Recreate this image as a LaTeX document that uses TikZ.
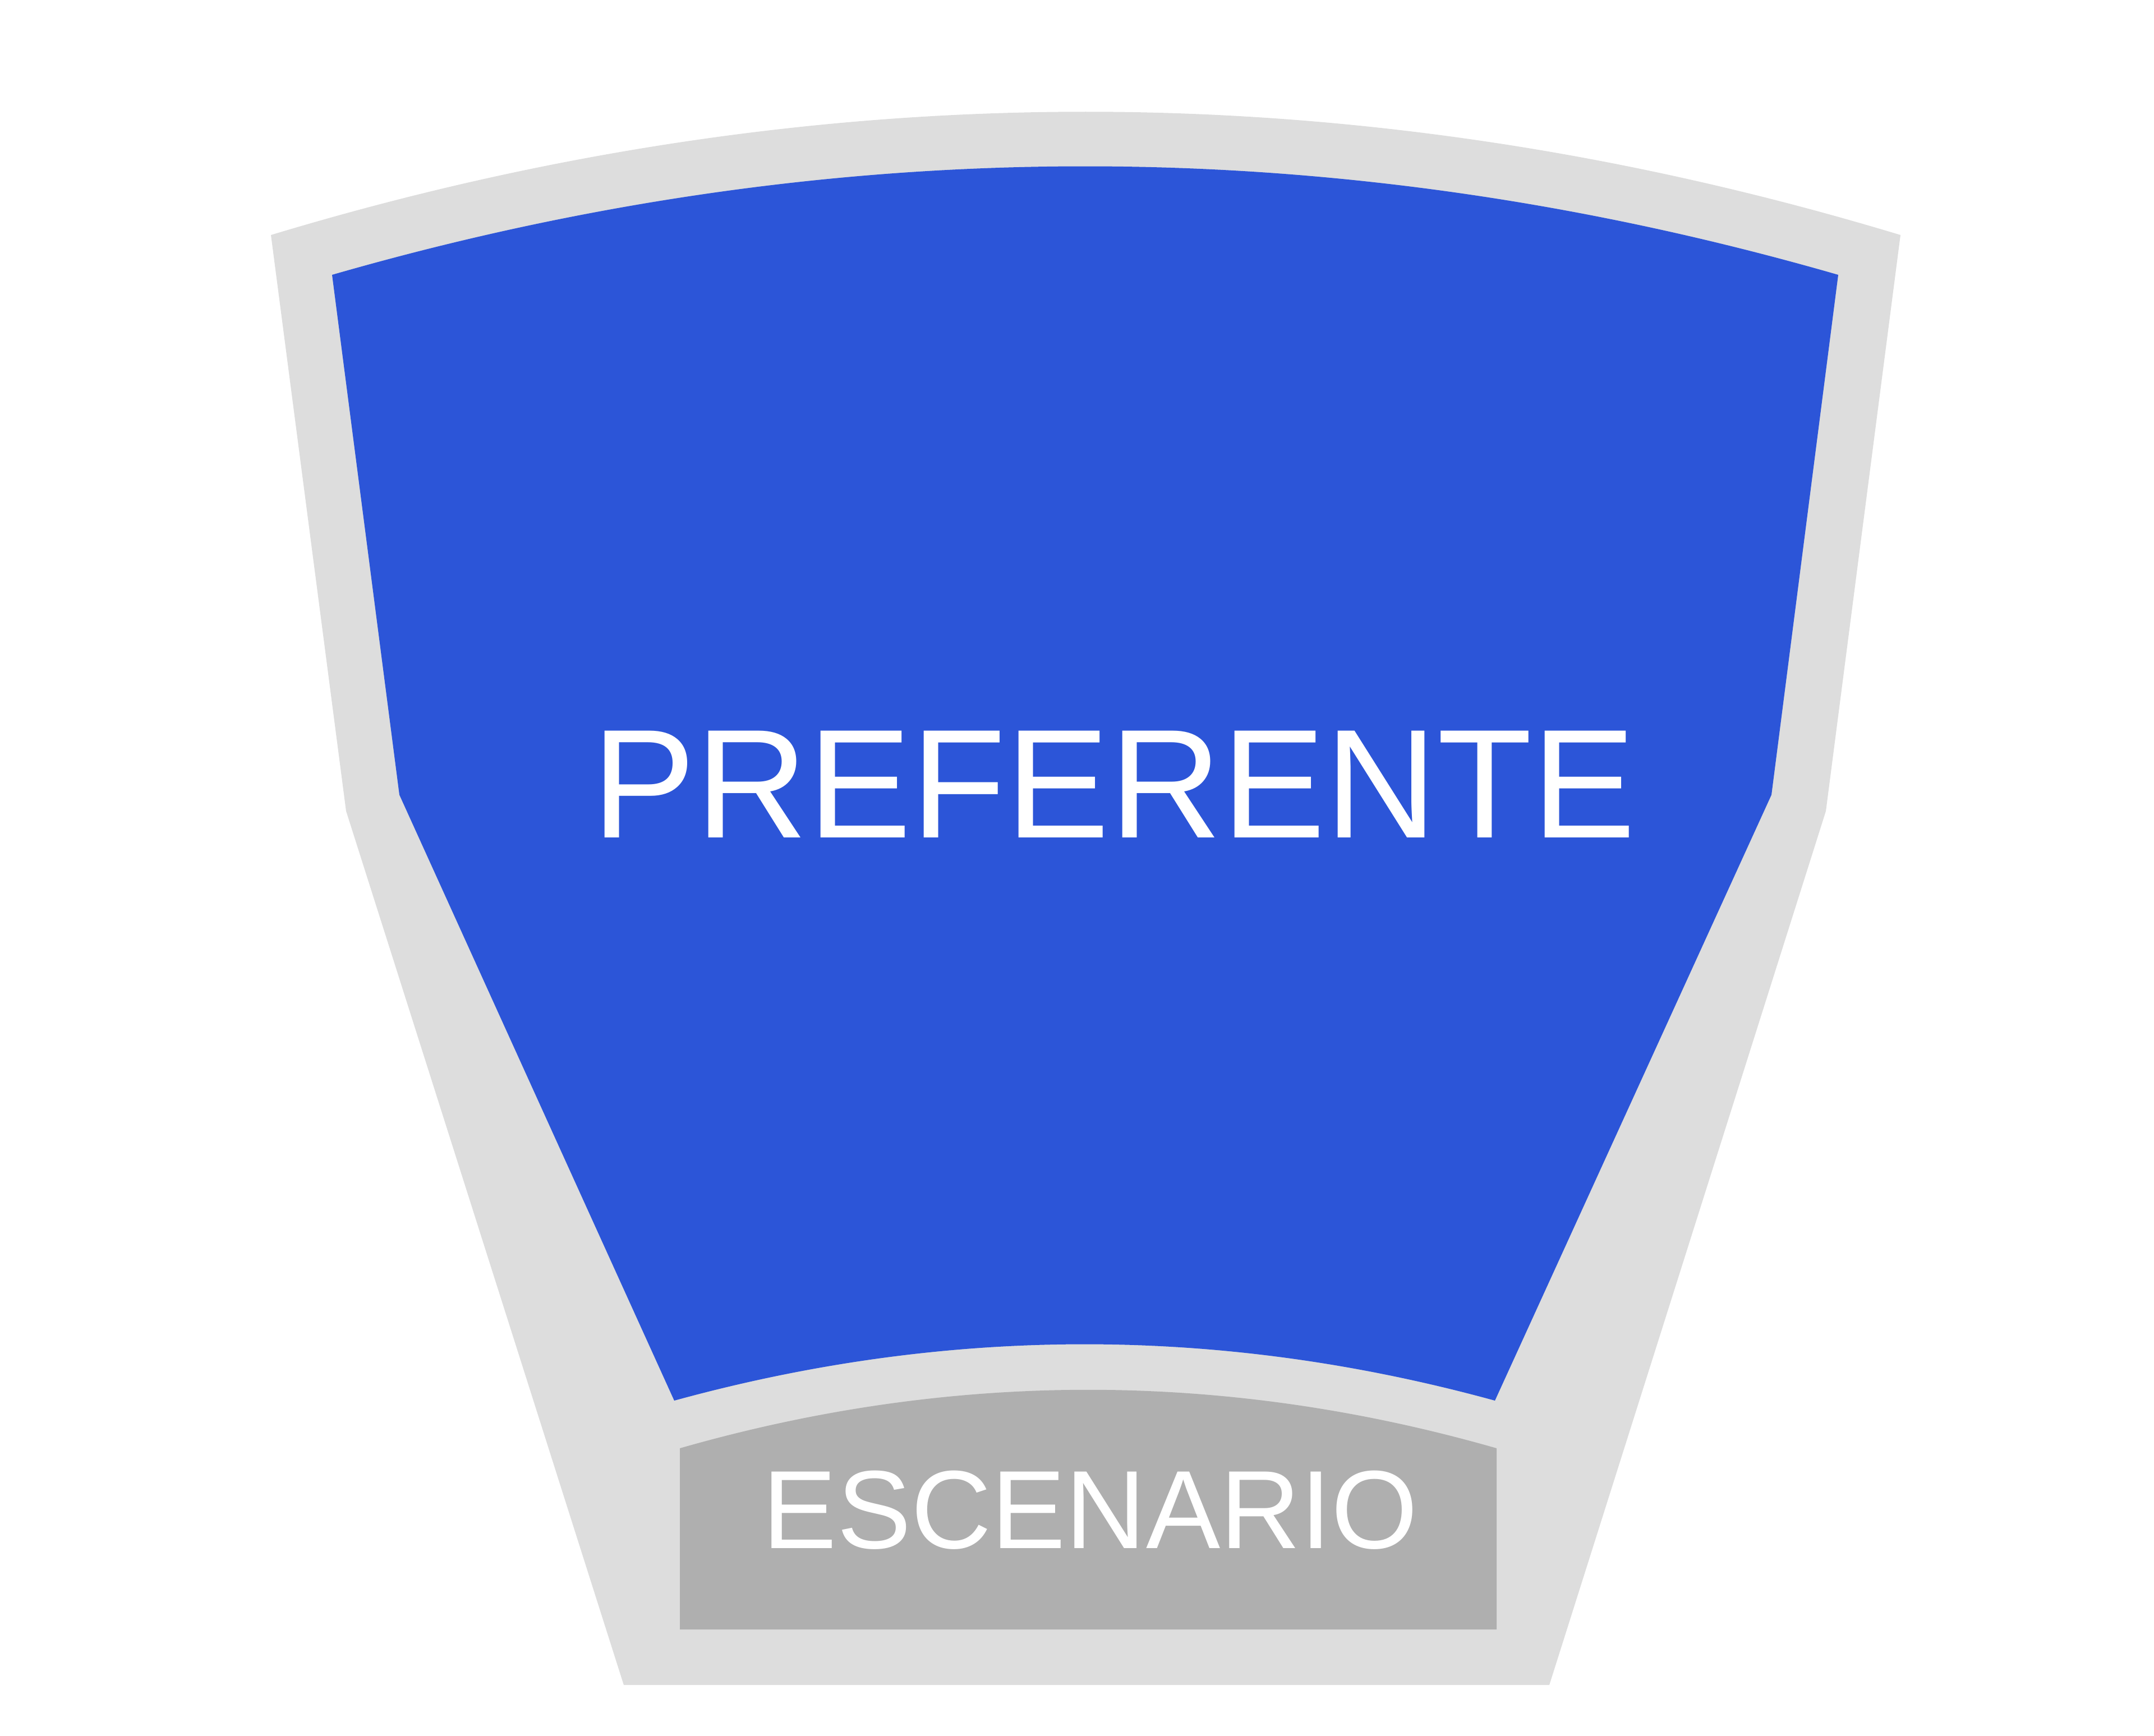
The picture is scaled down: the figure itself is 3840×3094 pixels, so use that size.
\documentclass[tikz,border=0pt]{standalone}
\usepackage{fontspec}
\setmainfont{Liberation Sans}
\definecolor{zonablue}{RGB}{44,85,216}
\definecolor{marco}{RGB}{221,221,221}
\definecolor{escgray}{RGB}{175,175,175}
\tikzset{zonelabel/.style={text=white,inner sep=0pt,anchor=base}}

\begin{document}
\begin{tikzpicture}[x=0.01cm,y=-0.01cm]
\useasboundingbox (0,0) rectangle (3840,3094);

\fill[marco] (483,419) .. controls (1451,126) and (2420,126) .. (3388,419)
  -- (3255,1446) -- (2762,3004) -- (1112,3004) -- (617,1446) -- cycle;
\fill[zonablue] (592,490) .. controls (1487,232) and (2382,232) .. (3277,490)
  -- (3158,1417) -- (2665,2497) .. controls (2177,2363) and (1690,2363) .. (1202,2497)
  -- (712,1417) -- cycle;
\fill[escgray] (1212,2582) .. controls (1697,2443) and (2183,2443) .. (2668,2582)
  -- (2668,2905) -- (1212,2905) -- cycle;

\node[zonelabel,font=\fontsize{78.7}{90}\selectfont] (pref) at (1986,1493) {PREFERENTE};
\node[zonelabel,font=\fontsize{56.4}{66}\selectfont] (esc) at (1944,2760) {ESCENARIO};
\end{tikzpicture}
\end{document}
